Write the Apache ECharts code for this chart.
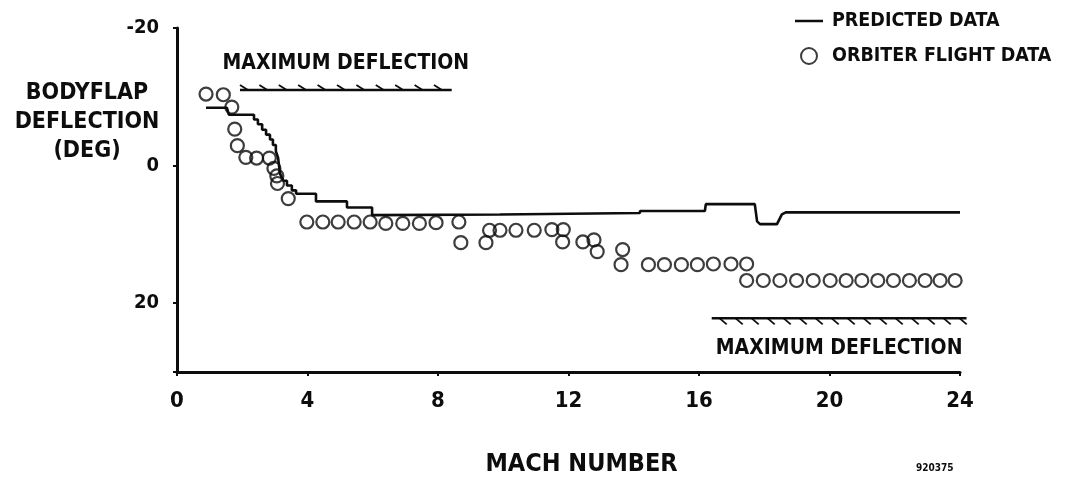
<!DOCTYPE html>
<html>
<head>
<meta charset="utf-8">
<script src="https://cdn.jsdelivr.net/npm/echarts@6/dist/echarts.min.js"></script>
<style>html,body{margin:0;padding:0;background:#fff}#c{width:1068px;height:482px}</style>
</head>
<body>
<div id="c"></div>
<script>
// ---- data ----
const xTicks = [0, 4, 8, 12, 16, 20, 24];
const yTicks = [-20, 0, 20];
const flightMach = [0.89,1.42,1.68,1.77,1.85,2.11,2.44,2.83,2.97,3.06,3.08,3.41,
  3.98,4.47,4.94,5.43,5.92,6.40,6.92,7.43,7.94,8.64,8.70,9.47,9.58,9.90,10.39,10.95,
  11.49,11.84,11.82,12.44,12.78,12.88,13.66,13.61,14.45,14.94,15.46,15.95,16.44,16.98,17.46,
  17.46,17.97,18.48,18.99,19.50,20.02,20.51,20.99,21.48,21.96,22.45,22.93,23.39,23.85];
const flightDefl = [-10.4,-10.3,-8.5,-5.3,-2.9,-1.2,-1.1,-1.1,0.4,1.5,2.6,4.8,
  8.2,8.2,8.2,8.2,8.2,8.4,8.4,8.4,8.3,8.2,11.2,11.2,9.4,9.4,9.4,9.4,
  9.3,9.3,11.1,11.1,10.8,12.5,12.2,14.4,14.4,14.4,14.4,14.4,14.3,14.3,14.3,
  16.7,16.7,16.7,16.7,16.7,16.7,16.7,16.7,16.7,16.7,16.7,16.7,16.7,16.7];
const predMach = [0.89,1.53,1.59,2.24,2.36,2.36,2.48,2.48,2.61,2.61,2.73,2.73,2.85,2.85,2.94,2.94,3.03,3.03,
  3.10,3.13,3.16,3.26,3.37,3.37,3.52,3.52,3.65,3.65,4.26,4.26,5.21,5.21,5.98,5.98,
  9.90,14.19,14.19,16.18,16.21,17.71,17.78,17.87,18.39,18.54,18.66,24.0];
const predDefl = [-8.4,-8.4,-7.4,-7.4,-7.4,-6.7,-6.7,-6.0,-6.0,-5.2,-5.2,-4.5,-4.5,-3.8,-3.8,-3.0,-3.0,-2.1,
  -1.1,0.1,1.2,2.2,2.2,2.9,2.9,3.6,3.6,4.1,4.1,5.2,5.2,6.1,6.1,7.2,
  7.1,6.9,6.6,6.6,5.6,5.6,8.1,8.5,8.5,7.1,6.8,6.8];
const limitStart = [1.93, 16.39];
const limitEnd = [8.42, 24.2];
const limitDefl = [-11.0, 22.2];
const limitSide = [-1, 1];
const limitLabels = ['MAXIMUM DEFLECTION', 'MAXIMUM DEFLECTION'];
const seriesNames = ['PREDICTED DATA', 'ORBITER FLIGHT DATA'];

// ---- chart ----
const NARROW = '"DejaVu Sans Condensed","Liberation Sans Narrow",sans-serif';
const INK = '#0d0d0d';
const chart = echarts.init(document.getElementById('c'), null, {renderer: 'canvas'});

const flight = flightMach.map((m, i) => [m, flightDefl[i]]);
const pred = predMach.map((m, i) => [m, predDefl[i]]);
const limits = limitStart.map((s, i) => [s, limitEnd[i], limitDefl[i], limitSide[i]]);

chart.setOption({
  animation: false,
  backgroundColor: '#fff',
  grid: {left: 177, right: 108, top: 28, bottom: 106, containLabel: false},
  legend: {
    orient: 'vertical', left: 790, top: 6, itemGap: 15,
    itemWidth: 28, itemHeight: 16,
    textStyle: {fontFamily: NARROW, fontWeight: 'bold', fontSize: 19.5, color: INK, padding: [0, 0, 0, 4]},
    data: [
      {name: seriesNames[0], icon: 'path://M0,0H28V2.5H0Z'},
      {name: seriesNames[1], icon: 'circle'}
    ]
  },
  xAxis: {
    type: 'value', min: xTicks[0], max: xTicks[xTicks.length - 1], interval: 4,
    name: 'MACH NUMBER', nameLocation: 'middle', nameGap: 80,
    nameTextStyle: {fontFamily: NARROW, fontWeight: 'bold', fontSize: 25, color: INK, padding: [0, 0, 0, 26]},
    axisLine: {show: true, onZero: false, lineStyle: {color: INK, width: 3}},
    axisTick: {show: true, length: 4, lineStyle: {color: INK, width: 2}},
    axisLabel: {fontFamily: NARROW, fontWeight: 'bold', fontSize: 22, color: INK, margin: 18},
    splitLine: {show: false}
  },
  yAxis: {
    type: 'value', inverse: true, min: yTicks[0], max: 30, interval: 20,
    axisLine: {show: true, onZero: false, lineStyle: {color: INK, width: 3}},
    axisTick: {show: true, length: 4, lineStyle: {color: INK, width: 2}},
    axisLabel: {
      fontFamily: NARROW, fontWeight: 'bold', fontSize: 20, color: INK, margin: 18,
      formatter: v => (yTicks.indexOf(v) >= 0 ? String(v) : '')
    },
    splitLine: {show: false}
  },
  graphic: [
    {type: 'text', x: 87, y: 122, style: {
      text: 'BODYFLAP\nDEFLECTION\n(DEG)', fill: INK, align: 'center', verticalAlign: 'middle',
      lineHeight: 29, font: 'bold 23px ' + NARROW}},
    {type: 'text', x: 916, y: 463, style: {text: '920375', fill: INK, font: 'bold 10px ' + NARROW}}
  ],
  series: [
    {
      name: seriesNames[0], type: 'line', data: pred, showSymbol: false, symbol: 'none',
      lineStyle: {color: INK, width: 2.6}, itemStyle: {color: INK}, z: 3
    },
    {
      name: seriesNames[1], type: 'scatter', data: flight, symbol: 'circle', symbolSize: 13,
      itemStyle: {color: 'rgba(255,255,255,0)', borderColor: INK, borderWidth: 2.2}, z: 4
    },
    {
      name: 'limits', type: 'custom', data: limits, clip: false, silent: true,
      renderItem: function (params, api) {
        const x0 = api.value(0), x1 = api.value(1), y = api.value(2), side = api.value(3);
        const p0 = api.coord([x0, y]), p1 = api.coord([x1, y]);
        const children = [{type: 'line', shape: {x1: p0[0], y1: p0[1], x2: p1[0], y2: p1[1]},
          style: {stroke: INK, lineWidth: 2.5}}];
        const step = side < 0 ? 19.4 : 16;
        for (let x = p0[0] + 8; x < p1[0] - 4; x += step) {
          if (side < 0) {
            children.push({type: 'line', shape: {x1: x - 8, y1: p0[1] - 5, x2: x, y2: p0[1]},
              style: {stroke: INK, lineWidth: 1.8}});
          } else {
            children.push({type: 'line', shape: {x1: x, y1: p0[1], x2: x + 7, y2: p0[1] + 6},
              style: {stroke: INK, lineWidth: 1.8}});
          }
        }
        children.push({type: 'text', style: {
          text: limitLabels[params.dataIndex], x: (p0[0] + p1[0]) / 2, y: p0[1] + (side < 0 ? -26 : 30),
          align: 'center', verticalAlign: 'middle', fill: INK, font: 'bold 21px ' + NARROW}});
        return {type: 'group', children: children};
      }
    }
  ]
});
</script>
</body>
</html>
